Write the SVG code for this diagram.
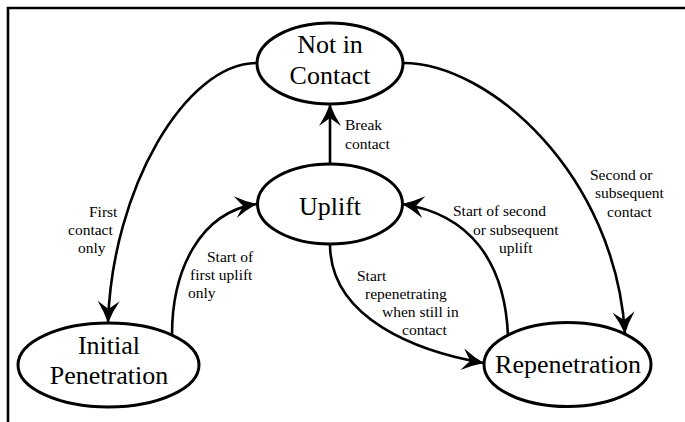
<svg xmlns="http://www.w3.org/2000/svg" width="685" height="422" viewBox="0 0 685 422">
<style>
text{font-family:Liberation Serif, Times New Roman, Times, DejaVu Serif, serif;fill:#000}
.node{fill:#fff;stroke:#000;stroke-width:3}
.nt{font-size:26px;text-anchor:middle}
.lb{font-size:15.5px}
.edge{fill:none;stroke:#000;stroke-width:2.6}
</style>
<defs>
<marker id="ah" markerUnits="userSpaceOnUse" markerWidth="26" markerHeight="26" viewBox="-24 -13 26 26" refX="0" refY="0" orient="auto">
<path d="M0,0 Q-11,-4 -22,-11 L-14,0 L-22,11 Q-11,4 0,0 Z" fill="#000"/>
</marker>
</defs>
<rect width="685" height="422" fill="#fff"/>
<path d="M8,422 L8,8 L685,8" fill="none" stroke="#000" stroke-width="2.6"/>
<g id="connectors">
<path class="edge" d="M257,63 C185,63 112,190 108,323" marker-end="url(#ah)"/>
<path class="edge" d="M172,335 C172,270 200,212 257,204" marker-end="url(#ah)"/>
<path class="edge" d="M330,164 L330,104" marker-end="url(#ah)"/>
<path class="edge" d="M330,244 C330,320 420,352 484,363" marker-end="url(#ah)"/>
<path class="edge" d="M508,336 C505,262 470,214 402,204" marker-end="url(#ah)"/>
<path class="edge" d="M403,63 C490,63 615,175 625,334" marker-end="url(#ah)"/>
<text class="lb" x="345" y="130">Break</text>
<text class="lb" x="345" y="149">contact</text>
<text class="lb" x="89" y="217">First</text>
<text class="lb" x="68" y="235">contact</text>
<text class="lb" x="78" y="253">only</text>
<text class="lb" x="207" y="262">Start of</text>
<text class="lb" x="190" y="280">first uplift</text>
<text class="lb" x="188" y="298">only</text>
<text class="lb" x="453" y="216">Start of second</text>
<text class="lb" x="473" y="235">or subsequent</text>
<text class="lb" x="499" y="253">uplift</text>
<text class="lb" x="590" y="180">Second or</text>
<text class="lb" x="595" y="198">subsequent</text>
<text class="lb" x="607" y="217">contact</text>
<text class="lb" x="357" y="281">Start</text>
<text class="lb" x="365" y="299">repenetrating</text>
<text class="lb" x="382" y="317">when still in</text>
<text class="lb" x="402" y="335">contact</text>
</g>
<g id="not-in-contact">
<ellipse class="node" cx="330" cy="63.5" rx="73" ry="40.5"/>
<text class="nt" x="330" y="53">Not in</text>
<text class="nt" x="330" y="84">Contact</text>
</g>
<g id="uplift">
<ellipse class="node" cx="330" cy="204" rx="72.5" ry="40"/>
<text class="nt" x="330" y="215">Uplift</text>
</g>
<g id="initial-penetration">
<ellipse class="node" cx="108.5" cy="365" rx="90.5" ry="42"/>
<text class="nt" x="109" y="354">Initial</text>
<text class="nt" x="109" y="384">Penetration</text>
</g>
<g id="repenetration">
<ellipse class="node" cx="567.5" cy="364.5" rx="83.5" ry="42"/>
<text class="nt" x="568" y="373">Repenetration</text>
</g>
</svg>
